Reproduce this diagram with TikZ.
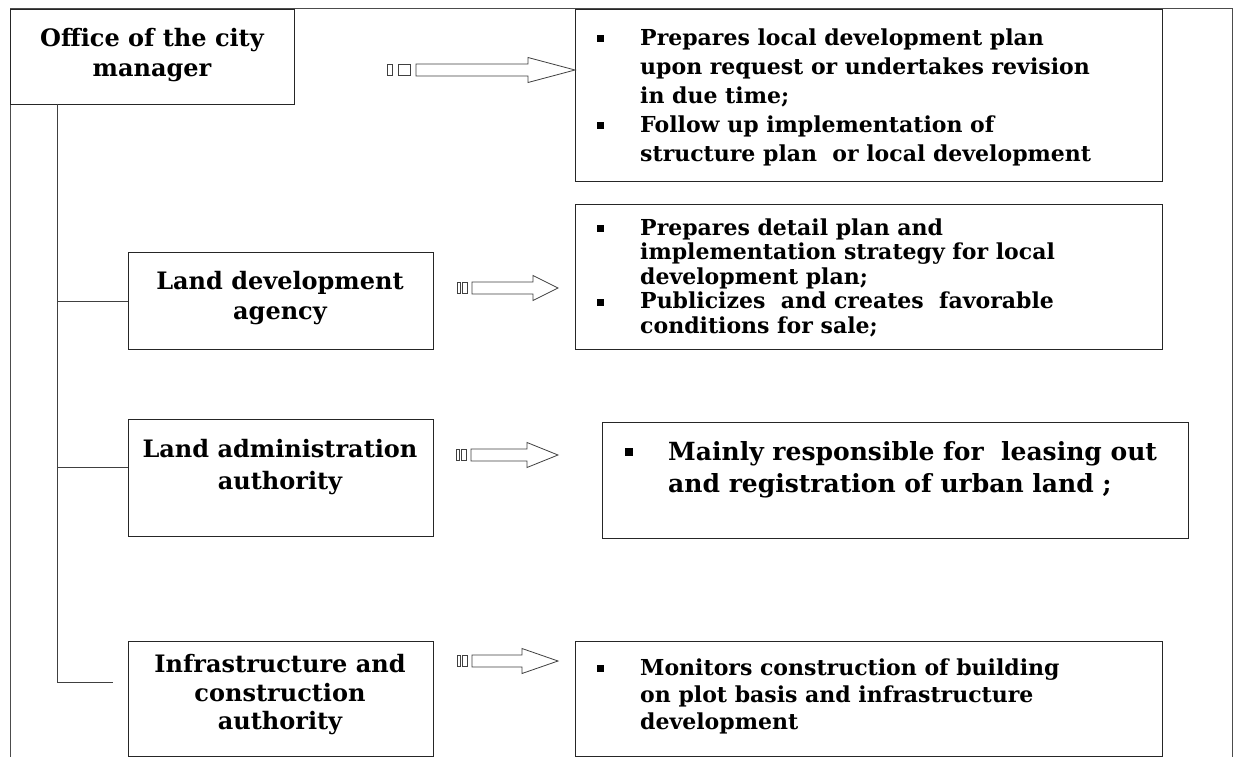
\documentclass[tikz,border=0pt]{standalone}
\usepackage{fontspec}
\setmainfont{DejaVu Serif}
\usepackage{array}
\newcommand{\bsq}[1]{\rule[#1]{7pt}{7pt}}
\newcommand{\stripedarrow}[9]{%
  % #1 name, #2 y, #3 sq1 x0, #4 sq1 x1, #5 sq2 x0, #6 sq2 x1, #7 shaft x0, #8 head x0, #9 tip x
  \coordinate (#1-tip) at (#9,#2);
  \draw[arr] (#3,#2-5.5) rectangle (#4,#2+5.5);
  \draw[arr] (#5,#2-5.5) rectangle (#6,#2+5.5);
  \draw[arr] (#7,#2-6) -- (#8,#2-6) -- (#8,#2-12.5) -- (#1-tip) -- (#8,#2+12.5) -- (#8,#2+6) -- (#7,#2+6) -- cycle;
}
\begin{document}
\begin{tikzpicture}[x=1pt,y=-1pt,
  frame/.style={draw=black!70, line width=1pt},
  box/.style={draw=black!85, line width=1pt, rectangle, inner sep=0pt, anchor=north west},
  lbl/.style={font=\bfseries\fontsize{24}{30}\selectfont, align=center, inner sep=0pt},
  txt/.style={font=\bfseries\fontsize{22}{27}\selectfont, inner sep=0pt, anchor=north west},
  big/.style={font=\bfseries\fontsize{25}{32}\selectfont, inner sep=0pt, anchor=north west},
  arr/.style={draw=black!75, line width=0.8pt, fill=white},
  tree/.style={draw=black!75, line width=1pt}]
\useasboundingbox (0,0) rectangle (1236,757);
% outer frame
\draw[frame] (10,757) -- (10,9) -- (1232,9) -- (1232,757);
% left boxes
\node[box, minimum width=284pt, minimum height=95pt] (office) at (10,9) {};
\node[lbl] (officeT) at (152,55) {Office of the city\\manager};
\node[box, minimum width=305pt, minimum height=97pt] (lda) at (128,252) {};
\node[lbl] (ldaT) at (280,298) {Land development\\agency};
\node[box, minimum width=305pt, minimum height=117pt] (laa) at (128,419) {};
\node[lbl, font=\bfseries\fontsize{24}{32}\selectfont] (laaT) at (280,467) {Land administration\\authority};
\node[box, minimum width=305pt, minimum height=115pt] (ica) at (128,641) {};
\node[lbl, font=\bfseries\fontsize{24}{28.5}\selectfont] (icaT) at (280,695) {Infrastructure and\\construction\\authority};
% tree
\coordinate (trunkTop) at (57,104);
\coordinate (trunkBot) at (57,682);
\coordinate (endBot) at (113,682);
\draw[tree] (trunkTop) -- (trunkBot) -- (endBot);
\draw[tree] (57,301) -- (lda.west |- 0,301);
\draw[tree] (57,467) -- (laa.west |- 0,467);
% right boxes
\node[box, minimum width=587pt, minimum height=172pt] (r1) at (575,9) {};
\node[txt, font=\bfseries\fontsize{22}{29}\selectfont] (r1T) at (597,25) {\begin{tabular}{@{}p{43pt}@{}l@{}}
\bsq{3pt} & Prepares local development plan\\
 & upon request or undertakes revision\\
 & in due time;\\
\bsq{3pt} & Follow up implementation of\\
 & structure plan\ \ or local development
\end{tabular}};
\node[box, minimum width=587pt, minimum height=145pt] (r2) at (575,204) {};
\node[txt, font=\bfseries\fontsize{22}{24.5}\selectfont] (r2T) at (597,218) {\begin{tabular}{@{}p{43pt}@{}l@{}}
\bsq{3pt} & Prepares detail plan and\\
 & implementation strategy for local\\
 & development plan;\\
\bsq{3pt} & Publicizes\ \ and creates\ \ favorable\\
 & conditions for sale;
\end{tabular}};
\node[box, minimum width=586pt, minimum height=116pt] (r3) at (602,422) {};
\node[big] (r3T) at (625,438) {\begin{tabular}{@{}p{43pt}@{}l@{}}
\rule[5pt]{8pt}{8pt} & Mainly responsible for\ \ leasing out\\
 & and registration of urban land ;
\end{tabular}};
\node[box, minimum width=587pt, minimum height=115pt] (r4) at (575,641) {};
\node[txt] (r4T) at (597,656) {\begin{tabular}{@{}p{43pt}@{}l@{}}
\bsq{3pt} & Monitors construction of building\\
 & on plot basis and infrastructure\\
 & development
\end{tabular}};
% arrows
\stripedarrow{a1}{70}{387}{392}{398}{410}{416}{528}{575}
\stripedarrow{a2}{288}{457}{460}{462}{467}{472}{533}{558}
\stripedarrow{a3}{455}{456}{459}{461}{466}{471}{527}{558}
\stripedarrow{a4}{661}{457}{460}{462}{467}{472}{522}{558}
\end{tikzpicture}
\end{document}
